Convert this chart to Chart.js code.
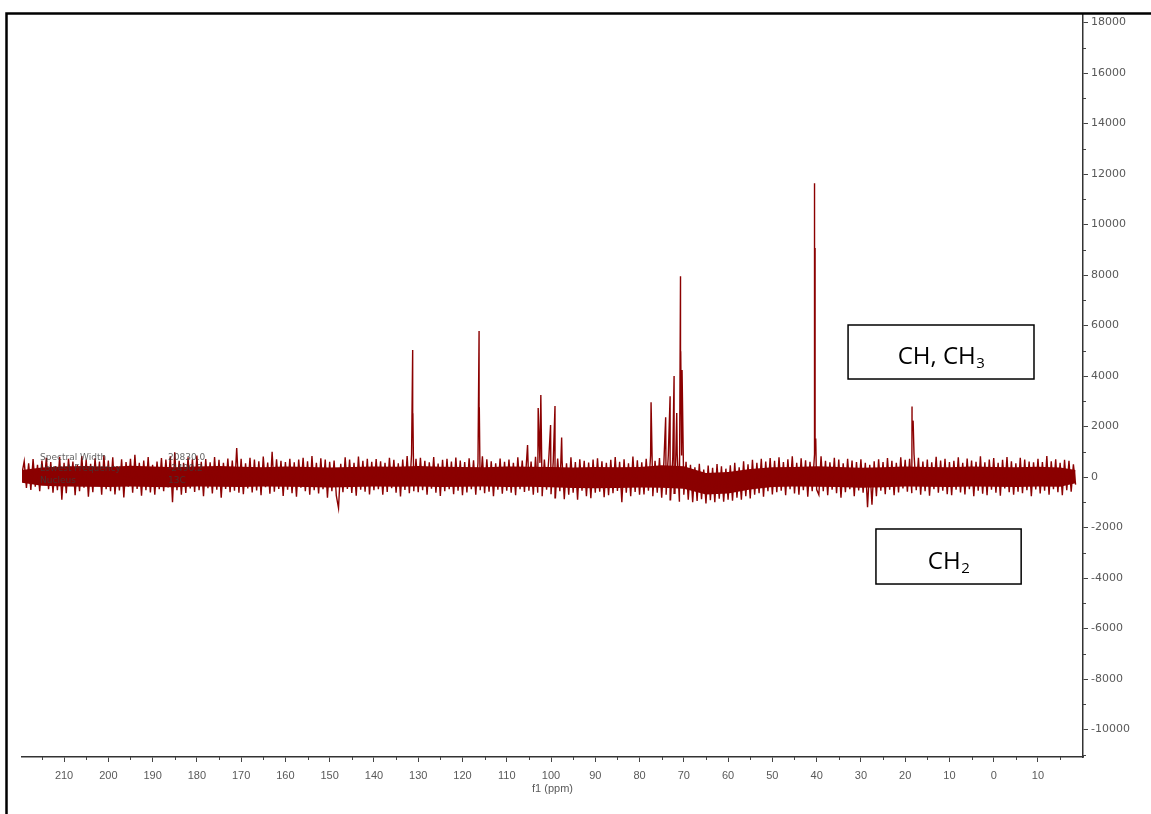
<!DOCTYPE html>
<html><head><meta charset="utf-8">
<script src="https://cdn.jsdelivr.net/npm/chart.js@4/dist/chart.umd.min.js"></script>
<style>html,body{margin:0;padding:0;background:#fff;}</style>
</head><body>
<canvas id="c" width="1151" height="814"></canvas>
<script>
// ---- spectrum baseline (read at 0.5 ppm steps from 219.5 ppm down to -18.5 ppm) ----
const PPM_START = 219.5;
const PPM_STEP = 0.5;
const baselineIntensity = [
 150, 620, -430, 540, -510, 710, -380, 480, -560, 650, -300, 760, -480, 590, -620, 430, -520, 800, -900, 560,
 -640, 720, -350, 610, -720, 480, -560, 830, -420, 690, -780, 520, -600, 740, -330, 610, -700, 860, -480, 650,
 -560, 780, -690, 420, -530, 700, -810, 590, -380, 720, -620, 880, -470, 560, -740, 650, -520, 790, -610, 480,
 -700, 610, -480, 750, -560, 690, -410, 820, -1000, 980, -520, 640, -700, 560, -630, 780, -450, 700, -590, 850,
 -520, 600, -760, 710, -440, 580, -650, 790, -500, 680, -820, 560, -470, 730, -600, 650, -540, 1150, -620, 720,
 -680, 540, -450, 760, -610, 690, -530, 620, -720, 810, -400, 570, -660, 1000, -580, 700, -470, 640, -750, 590,
 -500, 720, -640, 580, -780, 690, -420, 760, -560, 620, -700, 830, -520, 560, -650, 740, -480, 690, -820, 600,
 -560, 650, -740, -1230, 520, -600, 780, -470, 690, -630, 560, -740, 810, -500, 640, -580, 720, -690, 600, -520,
 710, -480, 620, -700, 560, -590, 760, -440, 680, -620, 540, -770, 690, -510, 830, -640, 900, -560, 720, -600,
 760, -520, 640, -700, 580, -460, 790, -620, 530, -750, 680, -560, 720, -480, 610, -680, 770, -540, 650, -720,
 590, -610, 740, -480, 660, -700, 560, -520, 820, -640, 700, -580, 620, -760, 540, -500, 730, -660, 600, -540,
 690, -620, 560, -720, 780, -480, 650, -590, 720, -540, 610, -700, 800, -620, 560, -760, 690, -500, 740, -680,
 600, -820, 730, -560, 650, -880, 540, -700, 780, -620, 590, -900, 700, -540, 640, -760, 570, -840, 690, -620,
 740, -580, 620, -800, 560, -720, 680, -640, 790, -550, 600, -1000, 700, -620, 540, -760, 810, -590, 660, -700,
 580, -690, 720, -540, 860, -760, 640, -620, 750, -820, 600, -700, 880, -900, 760, -650, 920, -980, 850, -700,
 600, -900, 480, -1000, 380, -950, 520, -880, 300, -1050, 450, -920, 360, -1000, 510, -860, 420, -980, 330, -900,
 460, -940, 560, -820, 380, -900, 620, -760, 500, -850, 680, -700, 560, -640, 720, -780, 610, -560, 750, -690,
 640, -600, 780, -540, 590, -720, 700, -480, 820, -650, 560, -700, 740, -520, 660, -780, 600, -560, 900, -500,
 -700, 820, -560, 640, -720, 580, -500, 760, -640, 690, -820, 540, -600, 720, -480, 650, -760, 590, -530, 700,
 -620, 560, -1200, 480, -1100, 620, -760, 700, -540, 590, -680, 750, -500, 640, -720, 560, -610, 780, -450, 680,
 -580, 720, -640, 900, -520, 760, -700, 610, -560, 690, -740, 580, -480, 800, -620, 650, -540, 720, -680, 590,
 -720, 640, -500, 780, -610, 560, -690, 730, -480, 650, -760, 600, -540, 820, -660, 580, -720, 690, -500, 750,
 -620, 560, -740, 680, -450, 790, -600, 620, -700, 540, -580, 760, -640, 690, -520, 610, -760, 580, -490, 720,
 -650, 590, -540, 830, -700, 620, -480, 700, -600, 560, -720, 680, -520, 640, -580, 500, -300
];

// ---- dense noise core of the baseline band (upper / lower edge, read every 5 ppm) ----
const corePpm   = [219.5, 215, 210, 205, 200, 195, 190, 185, 180, 175, 170, 165, 160, 155, 150, 145, 140, 135, 130, 125, 120, 115, 110, 105, 100, 95, 90, 85, 80, 75, 70, 65, 60, 55, 50, 45, 40, 35, 30, 25, 20, 15, 10, 5, 0, -5, -10, -15, -18.5];
const coreUpper = [280, 380, 420, 440, 400, 450, 420, 390, 420, 440, 410, 390, 420, 400, 380, 400, 420, 410, 440, 410, 400, 390, 420, 410, 400, 380, 400, 390, 400, 470, 430, 160, 200, 320, 390, 400, 430, 400, 370, 390, 420, 400, 390, 420, 400, 390, 410, 380, 280];
const coreLower = [-230, -350, -380, -390, -400, -380, -400, -410, -380, -390, -400, -380, -390, -400, -420, -400, -380, -390, -380, -400, -390, -380, -400, -390, -410, -440, -450, -440, -420, -430, -470, -690, -650, -490, -400, -380, -390, -400, -430, -410, -380, -390, -400, -380, -390, -400, -380, -390, -250];

// ---- resonance peaks (ppm, intensity) ----
const peakPpm    = [131.25, 131.2, 116.25, 116.2, 105.3, 102.9, 102.3, 100.1, 99.1, 97.6, 77.4, 74.1, 73.1, 72.2, 71.6, 70.75, 70.7, 70.4, 40.45, 40.4, 40.35, 40.2, 18.45, 18.4, 18.2];
const peakHeight = [5030, 2500, 5780, 2730, 1270, 2730, 3250, 2060, 2810, 1560, 2960, 2370, 3200, 4000, 2530, 7950, 4950, 4240, 11630, 6550, 9070, 1500, 2790, 2190, 2200];

// ---- axis ticks ----
const xTickValues = [-10, 0, 10, 20, 30, 40, 50, 60, 70, 80, 90, 100, 110, 120, 130, 140, 150, 160, 170, 180, 190, 200, 210];
const xTickLabels = ['10', '0', '10', '20', '30', '40', '50', '60', '70', '80', '90', '100', '110', '120', '130', '140', '150', '160', '170', '180', '190', '200', '210'];
const xMinorTicks = [-15, -5, 5, 15, 25, 35, 45, 55, 65, 75, 85, 95, 105, 115, 125, 135, 145, 155, 165, 175, 185, 195, 205, 215];
const yTickValues = [-10000, -8000, -6000, -4000, -2000, 0, 2000, 4000, 6000, 8000, 10000, 12000, 14000, 16000, 18000];
const yTickLabels = ['-10000', '-8000', '-6000', '-4000', '-2000', '0', '2000', '4000', '6000', '8000', '10000', '12000', '14000', '16000', '18000'];
const yMinorTicks = [-11000, -9000, -7000, -5000, -3000, -1000, 1000, 3000, 5000, 7000, 9000, 11000, 13000, 15000, 17000];

// ---- text annotations ----
const annotations = [
  { main: 'CH, CH', sub: '3', x0: 32.9, x1: -9.1, y0: 6020, y1: 3881 },
  { main: 'CH', sub: '2', x0: 26.6, x1: -6.2, y0: -2059, y1: -4238 }
];
const acqParams = [
  ['Spectral Width', '20830.0'],
  ['Lowest Frequency', '-2490.2'],
  ['Nucleus', '13C']
];

// ---- build datasets ----
const points = baselineIntensity.map((v, i) => ({ x: PPM_START - i * PPM_STEP, y: v }));
peakPpm.forEach((p, i) => points.push({ x: p, y: peakHeight[i] }));
points.sort((a, b) => a.x - b.x);
const upperPts = corePpm.map((p, i) => ({ x: p, y: coreUpper[i] })).sort((a, b) => a.x - b.x);
const lowerPts = corePpm.map((p, i) => ({ x: p, y: coreLower[i] })).sort((a, b) => a.x - b.x);

const RED = '#8b0000';

const decor = {
  id: 'decor',
  beforeDraw(chart) {
    const c = chart.ctx;
    c.save(); c.fillStyle = '#fff'; c.fillRect(0, 0, chart.width, chart.height); c.restore();
  },
  afterDatasetsDraw(chart) {
    const c = chart.ctx;
    c.save();
    c.font = '9px "DejaVu Sans"';
    c.fillStyle = 'rgba(60,60,60,0.8)';
    c.textBaseline = 'middle';
    const rows = [458, 469, 481];
    acqParams.forEach((r, i) => {
      c.fillText(r[0], 40, rows[i]);
      c.fillText(r[1], 168, rows[i]);
    });
    c.restore();
  },
  afterDraw(chart) {
    const c = chart.ctx, xs = chart.scales.x, ys = chart.scales.y, a = chart.chartArea;
    c.save();
    c.strokeStyle = '#444'; c.lineWidth = 1;
    xMinorTicks.forEach(v => {
      const px = Math.round(xs.getPixelForValue(v)) + 0.5;
      c.beginPath(); c.moveTo(px, a.bottom); c.lineTo(px, a.bottom + 3); c.stroke();
    });
    yMinorTicks.forEach(v => {
      const py = Math.round(ys.getPixelForValue(v)) + 0.5;
      c.beginPath(); c.moveTo(a.right, py); c.lineTo(a.right + 3, py); c.stroke();
    });
    c.strokeStyle = '#000'; c.lineWidth = 2.5;
    c.beginPath(); c.moveTo(6.5, 814); c.lineTo(6.5, 13.5); c.lineTo(1151, 13.5); c.stroke();
    annotations.forEach(an => {
      const l = xs.getPixelForValue(an.x0), r = xs.getPixelForValue(an.x1);
      const t = ys.getPixelForValue(an.y0), b = ys.getPixelForValue(an.y1);
      c.fillStyle = '#fff'; c.fillRect(l, t, r - l, b - t);
      c.strokeStyle = '#000'; c.lineWidth = 1.5; c.strokeRect(l, t, r - l, b - t);
      c.fillStyle = '#000';
      c.textBaseline = 'alphabetic';
      c.font = '24px "Open Sans"';
      const w1 = c.measureText(an.main).width;
      c.font = '15px "Open Sans"';
      const w2 = c.measureText(an.sub).width;
      const start = (l + r) / 2 - (w1 + w2) / 2;
      const base = (t + b) / 2 + 12;
      c.font = '24px "Open Sans"';
      c.fillText(an.main, start, base);
      c.font = '15px "Open Sans"';
      c.fillText(an.sub, start + w1 + 0.5, base + 4);
    });
    c.restore();
  }
};

new Chart(document.getElementById('c'), {
  type: 'line',
  data: {
    datasets: [
      { data: points, borderColor: RED, borderWidth: 1.4, pointRadius: 0, tension: 0, fill: false },
      { data: upperPts, borderWidth: 0, borderColor: 'rgba(0,0,0,0)', backgroundColor: RED, pointRadius: 0, tension: 0, fill: '+1' },
      { data: lowerPts, borderWidth: 0, borderColor: 'rgba(0,0,0,0)', pointRadius: 0, tension: 0, fill: false }
    ]
  },
  options: {
    responsive: false,
    animation: false,
    events: [],
    layout: { padding: { top: 14, left: 22, right: 0, bottom: 0 } },
    plugins: { legend: { display: false }, tooltip: { enabled: false } },
    scales: {
      x: {
        type: 'linear',
        position: 'bottom',
        reverse: true,
        min: -20.17,
        max: 219.5,
        afterBuildTicks: s => { s.ticks = xTickValues.map(v => ({ value: v })); },
        afterFit: s => { s.height = 57; },
        grid: { drawOnChartArea: false, drawTicks: true, tickLength: 5, color: '#444', lineWidth: 1 },
        border: { display: true, color: '#333', width: 1.5 },
        ticks: {
          autoSkip: false, maxRotation: 0, minRotation: 0, padding: 7,
          color: '#595959',
          font: { family: '"Liberation Sans"', size: 11 },
          callback: v => xTickLabels[xTickValues.indexOf(v)]
        },
        title: {
          display: true, text: 'f1 (ppm)', color: '#595959',
          font: { family: '"Liberation Sans"', size: 11 },
          padding: { top: 0, bottom: 18 }
        }
      },
      y: {
        type: 'linear',
        position: 'right',
        min: -11089,
        max: 18337,
        afterBuildTicks: s => { s.ticks = yTickValues.map(v => ({ value: v })); },
        afterFit: s => { s.width = 68; },
        grid: { drawOnChartArea: false, drawTicks: true, tickLength: 5, color: '#444', lineWidth: 1 },
        border: { display: true, color: '#333', width: 1.5 },
        ticks: {
          autoSkip: false, padding: 3,
          color: '#595959',
          font: { family: '"DejaVu Sans"', size: 11 },
          callback: v => yTickLabels[yTickValues.indexOf(v)]
        }
      }
    }
  },
  plugins: [decor]
});
</script>
</body></html>
